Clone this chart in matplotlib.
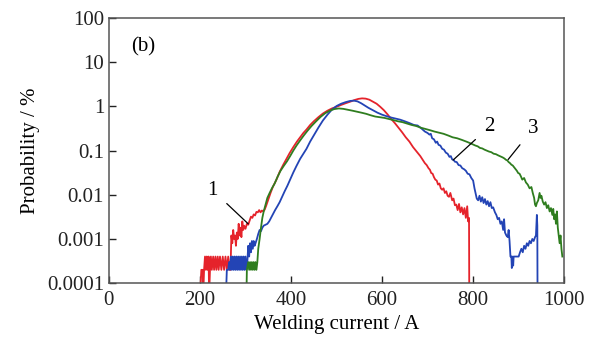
"""Welding current probability distribution, panel (b)."""
import matplotlib

matplotlib.use("Agg")
import matplotlib.pyplot as plt  # noqa: E402

# curve 1 (red): welding current / A and probability / %
red_x = [200, 203, 206, 207, 209, 211, 213, 215, 217, 219, 220, 222, 224, 226, 229,
         231, 234, 236, 239, 241, 244, 247, 250, 253, 256, 259, 262, 265, 267, 269,
         271, 273, 275, 277, 279, 281, 283, 285, 287, 289, 291, 293, 295, 297, 300,
         303, 306, 309, 312, 315, 318, 321, 324, 327, 330, 333, 336, 339, 342, 345,
         350, 355, 360, 368, 375, 383, 390, 397, 405, 413, 420, 427, 434, 442, 450,
         460, 470, 480, 490, 500, 510, 520, 530, 540, 548, 556, 564, 572, 580, 588,
         596, 604, 612, 620, 628, 636, 644, 652, 660, 668, 676, 684, 690, 694, 698,
         702, 705, 708, 711, 714, 717, 720, 723, 726, 729, 732, 735, 738, 741, 744,
         747, 750, 754, 757, 760, 763, 766, 769, 772, 775, 778, 781, 784, 787, 789,
         791, 792]
red_y = [5e-5, 0.0002, 0.0002, 5e-5, 0.0002, 0.0004, 0.0002, 0.0004, 0.0002, 0.0004,
         5e-5, 0.0002, 0.0004, 0.0002, 0.0004, 0.0002, 0.0004, 0.0002, 0.0004, 0.0002,
         0.0004, 0.0002, 0.0004, 0.0002, 0.0004, 0.0002, 0.0004, 0.0002, 0.0002, 0.0012,
         0.0008, 0.0016, 0.0010, 0.0012, 0.0007, 0.0014, 0.0010, 0.0022, 0.0012, 0.0018,
         0.0011, 0.0025, 0.0016, 0.0020, 0.0017, 0.0022, 0.0021, 0.0026, 0.0032, 0.0030,
         0.0036, 0.0034, 0.0041, 0.0040, 0.0045, 0.0040, 0.0044, 0.0042, 0.0046, 0.0055,
         0.0078, 0.011, 0.015, 0.022, 0.033, 0.048, 0.065, 0.088, 0.12, 0.16,
         0.20, 0.25, 0.30, 0.38, 0.46, 0.57, 0.69, 0.80, 0.90, 0.98,
         1.08, 1.18, 1.28, 1.40, 1.48, 1.52, 1.50, 1.42, 1.28, 1.15,
         0.98, 0.82, 0.66, 0.52, 0.42, 0.33, 0.26, 0.20, 0.16, 0.12,
         0.095, 0.075, 0.060, 0.052, 0.047, 0.040, 0.037, 0.031, 0.030, 0.025,
         0.022, 0.021, 0.017, 0.018, 0.014, 0.013, 0.014, 0.011, 0.012, 0.0095,
         0.0090, 0.011, 0.0075, 0.0082, 0.0058, 0.0060, 0.0045, 0.0062, 0.0040, 0.0052,
         0.0036, 0.0050, 0.0030, 0.0055, 0.0025, 0.0030, 1e-6]

# curve 2 (blue)
blue_x = [257, 259, 262, 264, 266, 268, 270, 272, 274, 276, 278, 280, 282, 284, 286,
          288, 290, 292, 294, 296, 298, 300, 302, 304, 306, 308, 310, 312, 314, 316,
          318, 320, 322, 325, 328, 331, 334, 337, 340, 344, 348, 352, 356, 360, 365,
          370, 375, 380, 386, 392, 398, 405, 412, 420, 427, 434, 442, 450, 460, 470,
          480, 490, 500, 510, 520, 530, 538, 546, 554, 562, 570, 580, 590, 600, 610,
          620, 630, 640, 650, 660, 670, 678, 686, 694, 700, 704, 707, 710, 714, 718,
          721, 724, 728, 732, 736, 740, 744, 748, 751, 754, 757, 760, 764, 768, 772,
          776, 780, 784, 788, 792, 796, 800, 803, 806, 808, 811, 814, 817, 820, 823,
          826, 829, 832, 835, 838, 841, 844, 848, 851, 854, 857, 860, 863, 866, 868,
          870, 873, 876, 878, 880, 882, 884, 885, 886, 888, 889, 892, 896, 900, 903,
          906, 909, 912, 915, 918, 921, 924, 927, 930, 933, 936, 938, 940, 941, 942]
blue_y = [5e-5, 0.0002, 0.0002, 0.0003, 0.0002, 0.0004, 0.0002, 0.0004, 0.0002, 0.0004,
          0.0002, 0.0004, 0.0002, 0.0004, 0.0002, 0.0004, 0.0002, 0.0004, 0.0002, 0.0004,
          0.0002, 0.0004, 0.0002, 0.0003, 0.0007, 0.0004, 0.0008, 0.0005, 0.0009, 0.0006,
          0.0009, 0.0007, 0.0008, 0.0010, 0.0013, 0.0016, 0.0015, 0.0018, 0.0020, 0.0021,
          0.0022, 0.0025, 0.0030, 0.0036, 0.0045, 0.0055, 0.0068, 0.0088, 0.012, 0.016,
          0.022, 0.032, 0.045, 0.065, 0.085, 0.11, 0.16, 0.22, 0.33, 0.48,
          0.65, 0.85, 1.02, 1.15, 1.25, 1.33, 1.35, 1.30, 1.18, 1.05,
          0.93, 0.82, 0.72, 0.65, 0.60, 0.56, 0.53, 0.50, 0.46, 0.42,
          0.38, 0.37, 0.32, 0.27, 0.25, 0.23, 0.24, 0.19, 0.18, 0.15,
          0.16, 0.135, 0.13, 0.11, 0.105, 0.090, 0.085, 0.072, 0.075, 0.063,
          0.062, 0.056, 0.055, 0.047, 0.046, 0.040, 0.038, 0.035, 0.030, 0.029,
          0.024, 0.021, 0.014, 0.010, 0.0082, 0.0075, 0.0095, 0.0070, 0.0088, 0.0065,
          0.0080, 0.0060, 0.0072, 0.0055, 0.0068, 0.0050, 0.0052, 0.0040, 0.0035, 0.0028,
          0.0030, 0.0022, 0.0025, 0.0016, 0.0028, 0.0014, 0.0012, 0.0011, 0.0016, 0.0009,
          0.0004, 0.0004, 0.00022, 0.0004, 0.00025, 0.0004, 0.0004, 0.0004, 0.0004, 0.0005,
          0.0006, 0.0005, 0.0007, 0.0006, 0.0008, 0.0007, 0.0009, 0.0008, 0.0010, 0.0009,
          0.0011, 0.0012, 0.0035, 0.0020, 1e-6]

# curve 3 (green)
green_x = [302, 303, 306, 308, 310, 312, 314, 316, 318, 320, 322, 324, 326, 328, 331,
           334, 337, 340, 344, 348, 353, 358, 364, 370, 377, 384, 391, 398, 405, 412,
           420, 428, 436, 445, 455, 465, 475, 485, 495, 505, 515, 525, 535, 545, 555,
           565, 575, 585, 595, 605, 615, 625, 635, 645, 655, 665, 675, 685, 695, 705,
           715, 725, 735, 745, 755, 765, 775, 785, 795, 805, 810, 815, 820, 825, 830,
           835, 840, 845, 850, 855, 860, 865, 869, 872, 875, 878, 881, 884, 887, 890,
           893, 896, 899, 902, 905, 908, 912, 916, 920, 924, 928, 931, 934, 936, 938,
           940, 943, 946, 948, 950, 953, 956, 959, 962, 965, 968, 971, 974, 976, 978,
           980, 982, 984, 986, 988, 990, 992, 994, 996]
green_y = [5e-5, 0.0002, 0.0003, 0.0002, 0.0003, 0.0002, 0.0003, 0.0002, 0.0003, 0.0002,
           0.0003, 0.0002, 0.0003, 0.0006, 0.0010, 0.0018, 0.0030, 0.0042, 0.0060, 0.0085,
           0.011, 0.014, 0.018, 0.025, 0.035, 0.045, 0.057, 0.075, 0.10, 0.13,
           0.17, 0.22, 0.28, 0.36, 0.46, 0.58, 0.70, 0.80, 0.87, 0.90,
           0.88, 0.84, 0.80, 0.76, 0.72, 0.68, 0.63, 0.59, 0.57, 0.55,
           0.52, 0.49, 0.46, 0.44, 0.41, 0.38, 0.36, 0.33, 0.31, 0.29,
           0.27, 0.255, 0.24, 0.22, 0.20, 0.19, 0.175, 0.16, 0.145, 0.13,
           0.125, 0.115, 0.112, 0.105, 0.10, 0.095, 0.092, 0.085, 0.083, 0.078,
           0.074, 0.070, 0.066, 0.062, 0.060, 0.055, 0.052, 0.048, 0.046, 0.042,
           0.038, 0.035, 0.031, 0.030, 0.026, 0.022, 0.024, 0.019, 0.017, 0.014,
           0.015, 0.011, 0.0085, 0.0060, 0.0055, 0.0065, 0.0075, 0.0110, 0.0085, 0.0095,
           0.0070, 0.0060, 0.0068, 0.0050, 0.0058, 0.0042, 0.0050, 0.0035, 0.0048, 0.0028,
           0.0036, 0.0022, 0.0042, 0.0018, 0.0012, 0.0008, 0.0012, 0.0006, 0.0004]

x_ticks = [0, 200, 400, 600, 800, 1000]
y_ticks = [0.0001, 0.001, 0.01, 0.1, 1, 10, 100]
y_tick_labels = ["0.0001", "0.001", "0.01", "0.1", "1", "10", "100"]

plt.rcParams["font.family"] = ["Liberation Serif", "DejaVu Serif"]

fig = plt.figure(figsize=(5.92, 3.47), dpi=100)
ax = fig.add_axes([0.184, 0.184, 0.769, 0.764])

ax.plot(red_x, red_y, color="#e5232b", lw=1.3)
ax.plot(blue_x, blue_y, color="#2344b5", lw=1.3)
ax.plot(green_x, green_y, color="#2f7d1f", lw=1.3)

ax.set_yscale("log")
ax.set_xlim(0, 1000)
ax.set_ylim(0.0001, 100)
ax.set_xticks(x_ticks)
ax.set_yticks(y_ticks)
ax.set_yticklabels(y_tick_labels)
ax.minorticks_off()
ax.tick_params(direction="in", length=5, width=1, labelsize=15, colors="#222222")
ax.tick_params(axis="x", pad=6)
for s in ax.spines.values():
    s.set_color("#555555")
    s.set_linewidth(1.1)

ax.set_xlabel("Welding current / A", fontsize=15, labelpad=3)
ax.set_ylabel("Probability / %", fontsize=15, labelpad=5)

# curve labels with leader lines
ax.annotate("1", xy=(306, 0.0022), xytext=(228, 0.0126), fontsize=15,
            ha="center", va="center",
            arrowprops=dict(arrowstyle="-", color="black", lw=0.9, shrinkA=6, shrinkB=0))
ax.annotate("2", xy=(756, 0.061), xytext=(836, 0.35), fontsize=15,
            ha="center", va="center",
            arrowprops=dict(arrowstyle="-", color="black", lw=0.9, shrinkA=6, shrinkB=0))
ax.annotate("3", xy=(877, 0.063), xytext=(932, 0.32), fontsize=15,
            ha="center", va="center",
            arrowprops=dict(arrowstyle="-", color="black", lw=0.9, shrinkA=6, shrinkB=0))
ax.text(75, 22, "(b)", fontsize=15, ha="center", va="center")

fig.savefig("out.png", dpi=100)
